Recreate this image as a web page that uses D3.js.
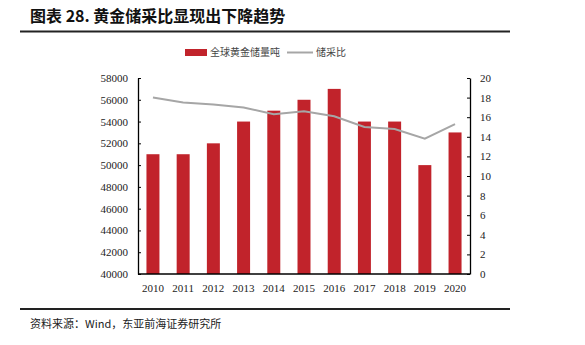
<!DOCTYPE html>
<html><head><meta charset="utf-8">
<script src="https://cdn.jsdelivr.net/npm/d3@7"></script>
<style>body{margin:0;background:#fff}</style>
</head><body>
<script>
const years = ["2010","2011","2012","2013","2014","2015","2016","2017","2018","2019","2020"];
const reserves = [51000,51000,52000,54000,55000,56000,57000,54000,54000,50000,53000];
const ratio = [18.0,17.5,17.3,17.0,16.3,16.6,16.1,15.0,14.8,13.8,15.3];
const leftTicks = [40000,42000,44000,46000,48000,50000,52000,54000,56000,58000];
const rightTicks = [0,2,4,6,8,10,12,14,16,18,20];

const W=585,H=345;
const svg=d3.select("body").append("svg").attr("width",W).attr("height",H);
const serif="'Liberation Serif','Times New Roman',serif";
const cjk="'Noto Sans CJK SC','Noto Sans',sans-serif";

svg.append("text").attr("x",30).attr("y",22).attr("font-family",cjk).attr("font-weight","bold")
  .attr("font-size",16).attr("fill","#111").text("图表 28. 黄金储采比显现出下降趋势");
svg.append("line").attr("x1",20).attr("x2",510).attr("y1",31.5).attr("y2",31.5).attr("stroke","#222").attr("stroke-width",2);
svg.append("line").attr("x1",20).attr("x2",510).attr("y1",309).attr("y2",309).attr("stroke","#222").attr("stroke-width",2);
svg.append("text").attr("x",30).attr("y",328).attr("font-family",cjk).attr("font-size",11).attr("fill","#222")
  .text("资料来源：Wind，东亚前海证券研究所");

const x0=138,x1=470,yT=78,yB=274;
const x=d3.scaleBand().domain(years).range([x0,x1]).paddingInner(0.57).paddingOuter(0.28);
const yL=d3.scaleLinear().domain([40000,58000]).range([yB,yT]);
const yR=d3.scaleLinear().domain([0,20]).range([yB,yT]);

svg.append("g").selectAll("rect").data(years).join("rect")
  .attr("x",d=>x(d)).attr("width",x.bandwidth())
  .attr("y",(d,i)=>yL(reserves[i])).attr("height",(d,i)=>yB-yL(reserves[i]))
  .attr("fill","#C1232B");

const line=d3.line().x((d,i)=>x(years[i])+x.bandwidth()/2).y(d=>yR(d));
svg.append("path").datum(ratio).attr("d",line).attr("fill","none").attr("stroke","#A6A6A6").attr("stroke-width",2);

const gl=svg.append("g").attr("transform",`translate(${x0},0)`)
  .call(d3.axisLeft(yL).tickValues(leftTicks).tickFormat(d3.format("d")).tickSizeInner(-3).tickSizeOuter(0).tickPadding(10));
const gr=svg.append("g").attr("transform",`translate(${x1},0)`)
  .call(d3.axisRight(yR).tickValues(rightTicks).tickSizeInner(-3).tickSizeOuter(0).tickPadding(10));
const gb=svg.append("g").attr("transform",`translate(0,${yB})`)
  .call(d3.axisBottom(x).tickSize(0).tickPadding(10));
[gl,gr,gb].forEach(g=>{
  g.selectAll("path").attr("stroke","#000").attr("stroke-width",1.3);
  g.selectAll("line").attr("stroke","#000");
  g.selectAll("text").attr("font-family",serif).attr("font-size",11).attr("fill","#222");
});
gb.select("path").attr("d",`M${x0},0H${x1}`);

// legend
const lg=svg.append("g");
lg.append("rect").attr("x",185).attr("y",49).attr("width",22).attr("height",7).attr("fill","#C1232B");
lg.append("text").attr("x",210).attr("y",56).attr("font-family",cjk).attr("font-size",10).attr("fill","#444").text("全球黄金储量吨");
lg.append("line").attr("x1",287).attr("x2",313).attr("y1",52.5).attr("y2",52.5).attr("stroke","#A6A6A6").attr("stroke-width",2);
lg.append("text").attr("x",316).attr("y",56).attr("font-family",cjk).attr("font-size",10).attr("fill","#444").text("储采比");
</script>
</body></html>
